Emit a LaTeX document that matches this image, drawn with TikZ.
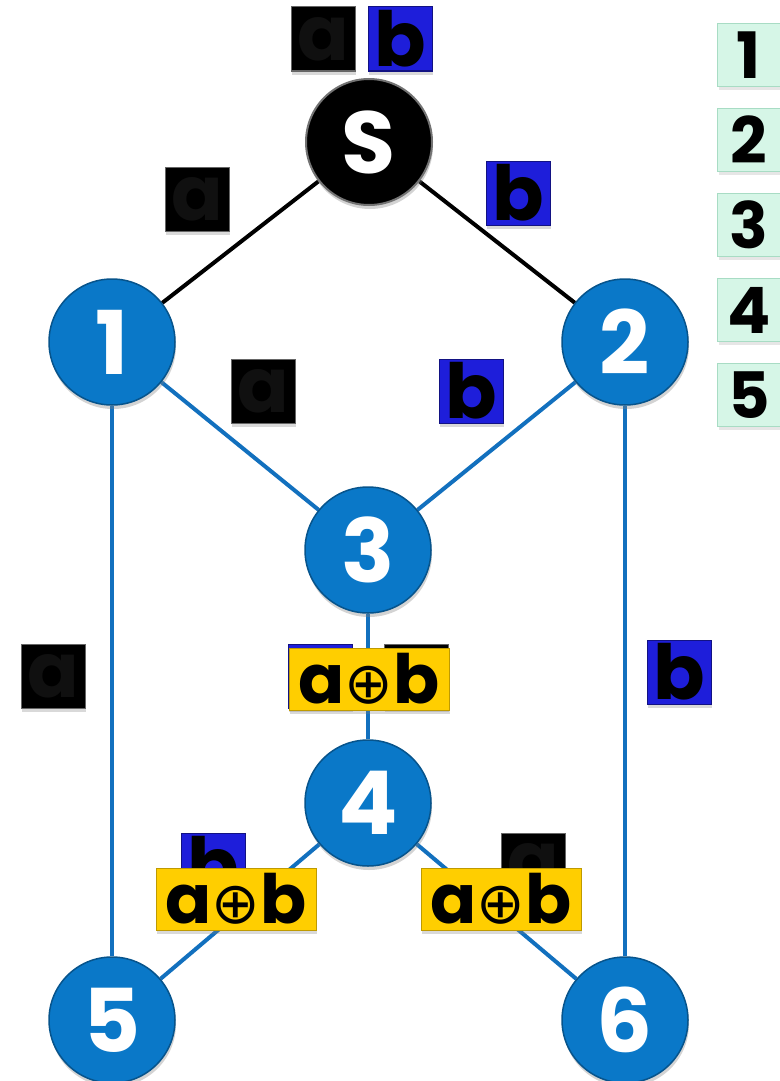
\documentclass[tikz,border=0pt]{standalone}
\usepackage{fontspec}
\setmainfont{Poppins}
\newfontfamily\opfont{DejaVu Sans}
\usetikzlibrary{shadows,backgrounds,positioning}

\definecolor{nodeblue}{RGB}{10,120,200}
\definecolor{linkblue}{RGB}{18,112,190}
\definecolor{pktblue}{RGB}{30,30,218}
\definecolor{glyphgray}{RGB}{16,16,16}
\definecolor{codeyellow}{RGB}{255,206,0}
\definecolor{mint}{RGB}{214,246,231}
\definecolor{mintedge}{RGB}{168,220,196}

% xor sign set large in DejaVu
\newcommand{\xorsign}{{\opfont\fontsize{58}{58}\selectfont\mdseries ⊕}}

\begin{document}
\begin{tikzpicture}[x=1pt,y=-1pt,node distance=253pt]
  \tikzstyle{router}=[circle,minimum size=126pt,inner sep=0pt,fill=nodeblue,
                      draw=nodeblue!70!black,line width=1.5pt,text=white,
                      font=\fontsize{88}{88}\selectfont\bfseries,
                      drop shadow={opacity=0.35,shadow xshift=1pt,shadow yshift=-4pt}]
  \tikzstyle{source}=[router,fill=black,draw=black!55,line width=2pt]
  \tikzstyle{packet}=[rectangle,minimum size=64pt,inner sep=0pt,line width=1pt,
                      font=\fontsize{76}{76}\selectfont\bfseries,
                      drop shadow={opacity=0.3,shadow xshift=1pt,shadow yshift=-4pt}]
  \tikzstyle{pkta}=[packet,fill=black,draw=black!60,text=glyphgray]
  \tikzstyle{pktb}=[packet,fill=pktblue,draw=pktblue!60!black,text=black]
  \tikzstyle{coded}=[rectangle,minimum width=160pt,minimum height=62pt,inner sep=0pt,
                     fill=codeyellow,draw=codeyellow!75!black,line width=1pt,
                     font=\fontsize{68}{68}\selectfont\bfseries,
                     drop shadow={opacity=0.3,shadow xshift=1pt,shadow yshift=-4pt}]
  \tikzstyle{legend}=[rectangle,minimum size=63pt,inner sep=0pt,fill=mint,
                      draw=mintedge,line width=1.2pt,
                      font=\fontsize{64}{64}\selectfont\bfseries,
                      drop shadow={opacity=0.2,shadow xshift=1pt,shadow yshift=-3pt}]
  \tikzstyle{wire}=[line width=4pt,draw=black]
  \tikzstyle{link}=[line width=4pt,draw=linkblue]

  \useasboundingbox (0,0) rectangle (779,1081);

  % routers
  \node[source] (s) at (369,142) {S};
  \node[router] (n1) at (112,342) {1};
  \node[router] (n2) at (625,342) {2};
  \node[router] (n3) at (368,550) {3};
  \node[router] (n4) [below of=n3] {4};
  \node[router] (n5) at (112,1020) {5};
  \node[router] (n6) at (625,1020) {6};

  % packets on the links
  \node[pkta] (pa0) at (323,39)  {a};
  \node[pktb] (pb0) at (400,39)  {b};
  \node[pkta] (pa1) at (197,199) {a};
  \node[pktb] (pb1) at (518,193) {b};
  \node[pkta] (pa3) at (263,391) {a};
  \node[pktb] (pb3) at (471,391) {b};
  \node[pkta] (pa5) at (53,676)  {a};
  \node[pktb] (pb6) at (679,672) {b};

  % coded packets (plain ones peek out behind)
  \node[pktb] (pb4) at (320,676) {};
  \node[pkta] (pa4) at (416,676) {};
  \node[coded] (x34) at (369,679) {a\xorsign b};
  \node[pktb] (pb45) at (213,865) {b};
  \node[pkta] (pa46) at (533,865) {a};
  \node[coded] (x45) at (236,899) {a\xorsign b};
  \node[coded] (x46) at (501,899) {a\xorsign b};

  % time slots
  \node[legend] (l1) at (749,55) {1};
  \begin{scope}[node distance=85pt]
    \node[legend] (l2) [below of=l1] {2};
    \node[legend] (l3) [below of=l2] {3};
    \node[legend] (l4) [below of=l3] {4};
    \node[legend] (l5) [below of=l4] {5};
  \end{scope}

  \begin{scope}[on background layer]
    \path (s) edge[wire] (n1)
          (s) edge[wire] (n2)
          (n1) edge[link] (n3)
          (n2) edge[link] (n3)
          (n1) edge[link] (n5)
          (n2) edge[link] (n6)
          (n3) edge[link] (n4)
          (n4) edge[link] (n5)
          (n4) edge[link] (n6)
    ; %end path
  \end{scope}
\end{tikzpicture}
\end{document}
